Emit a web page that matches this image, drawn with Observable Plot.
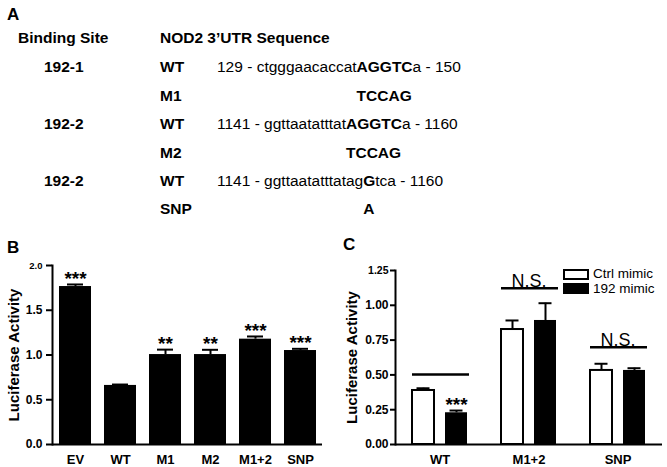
<!DOCTYPE html>
<html>
<head>
<meta charset="utf-8">
<script src="https://cdn.jsdelivr.net/npm/d3@7"></script>
<script src="https://cdn.jsdelivr.net/npm/@observablehq/plot@0.6"></script>
<style>
  html, body { margin: 0; padding: 0; background: white; }
  #wrap { position: relative; width: 667px; height: 467px; overflow: hidden; background: white;
          font-family: "Liberation Sans", Arial, sans-serif; color: black; }
  .t { position: absolute; white-space: pre; font-size: 15.5px; line-height: 18px; }
  .b { font-weight: bold; }
  .hid { visibility: hidden; }
  .panel { position: absolute; font-weight: bold; font-size: 17px; line-height: 20px; }
  .plot { position: absolute; }
  .plot svg { background: transparent !important; overflow: visible; max-width: none !important; }
  .lg { position: absolute; font-size: 13.5px; line-height: 12px; white-space: pre; }
  .sw { position: absolute; box-sizing: border-box; border: 2px solid black; }
</style>
</head>
<body>
<div id="wrap"></div>
<script>
// ---------- Panel A: sequence table ----------
const headers = ["Binding Site", "NOD2 3\u2019UTR Sequence"];
const siteLabels = ["192-1", "", "192-2", "", "192-2", ""];
const variantLabels = ["WT", "M1", "WT", "M2", "WT", "SNP"];
// each sequence row: [regular prefix, bold part, regular suffix, prefixHidden]
const seqRows = [
  ["129 - ctgggaacaccat", "AGGTC", "a - 150", false],
  ["129 - ctgggaacaccat", "TCCAG", "", true],
  ["1141 - ggttaatatttat", "AGGTC", "a - 1160", false],
  ["1141 - ggttaatatttat", "TCCAG", "", true],
  ["1141 - ggttaatatttatag", "G", "tca - 1160", false],
  ["1141 - ggttaatatttatag", "A", "", true]
];

// ---------- Panel B data ----------
const catsB = ["EV", "WT", "M1", "M2", "M1+2", "SNP"];
const meanB = [1.765, 0.66, 1.005, 1.005, 1.177, 1.05];
const errB  = [0.023, 0.01, 0.055, 0.053, 0.03, 0.019];
const starsB = ["***", "", "**", "**", "***", "***"];
const ticksB = [0, 0.5, 1.0, 1.5, 2.0];
const yTitle = "Luciferase Activity";

// ---------- Panel C data ----------
const groupsC = ["WT", "M1+2", "SNP"];
const seriesC = ["Ctrl mimic", "192 mimic"];
const ctrlMean = [0.388, 0.826, 0.532];
const ctrlErr  = [0.016, 0.065, 0.048];
const mimicMean = [0.228, 0.891, 0.532];
const mimicErr  = [0.016, 0.124, 0.016];
const mimicStars = ["***", "", ""];
const sigLevel = [0.503, 1.123, 0.699];
const sigLabel = ["", "N.S.", "N.S."];
const ticksC = [0, 0.25, 0.5, 0.75, 1.0, 1.25];

const FONT = "Liberation Sans, Arial, sans-serif";
const wrap = document.getElementById("wrap");

function addDiv(cls, html, left, top) {
  const d = document.createElement("div");
  d.className = cls;
  d.innerHTML = html;
  d.style.left = left + "px";
  d.style.top = top + "px";
  wrap.appendChild(d);
  return d;
}

// Panel A layout
const rowY = [67, 96, 124, 153, 181, 209];
addDiv("panel", "A", 7, 5);
addDiv("t b", headers[0], 18, 38 - 9);
addDiv("t b", headers[1], 160, 38 - 9);
rowY.forEach((y, i) => {
  if (siteLabels[i]) addDiv("t b", siteLabels[i], 44, y - 9);
  addDiv("t b", variantLabels[i], 160, y - 9);
  const [pre, bold, suf, hidden] = seqRows[i];
  addDiv("t", `<span class="${hidden ? "hid" : ""}">${pre}</span><span class="b">${bold}</span>${suf}`, 217, y - 9);
});

// ---------- Panel B plot ----------
const dataB = catsB.map((c, i) => ({cat: c, mean: meanB[i], err: errB[i], top: meanB[i] + errB[i], star: starsB[i]}));
const plotB = Plot.plot({
  width: 333, height: 220,
  marginLeft: 52, marginRight: 11, marginTop: 18, marginBottom: 23,
  style: {fontFamily: FONT, background: "transparent", color: "black"},
  x: {domain: catsB, paddingInner: 0.29, paddingOuter: 0.14},
  y: {domain: [0, 2]},
  marks: [
    Plot.barY(dataB, {x: "cat", y: "mean", fill: "black"}),
    Plot.ruleX(dataB, {x: "cat", y1: "mean", y2: "top", strokeWidth: 2}),
    Plot.tickY(dataB, {x: "cat", y: "top", strokeWidth: 2, insetLeft: 8, insetRight: 8}),
    Plot.text(dataB, {x: "cat", y: "top", text: "star", fontSize: 19, fontWeight: "bold", lineAnchor: "middle", dy: -6}),
    Plot.axisY({ticks: ticksB, tickFormat: d3.format(".1f"), tickSize: 6, tickPadding: 4, strokeWidth: 2,
      fontSize: 12, fontWeight: "bold", label: null}),
    Plot.text([yTitle], {frameAnchor: "left", textAnchor: "middle", lineAnchor: "middle", rotate: -90, dx: -38.5, fontSize: 15, fontWeight: "bold"}),
    Plot.axisX({tickSize: 0, tickPadding: 10, fontSize: 13, fontWeight: "bold", label: null}),
    Plot.ruleY([0], {strokeWidth: 2}),
    Plot.frame({anchor: "left", strokeWidth: 2})
  ]
});

// ---------- Panel C plot ----------
const dataC = groupsC.map((g, i) => ({
  group: g, cm: ctrlMean[i], ct: ctrlMean[i] + ctrlErr[i],
  mm: mimicMean[i], mt: mimicMean[i] + mimicErr[i], star: mimicStars[i],
  sig: sigLevel[i], sigLabel: sigLabel[i]
}));
const plotC = Plot.plot({
  width: 334, height: 220,
  marginLeft: 62, marginRight: 5, marginTop: 23, marginBottom: 23,
  style: {fontFamily: FONT, background: "transparent", color: "black"},
  x: {domain: groupsC, padding: 0},
  y: {domain: [0, 1.25]},
  marks: [
    Plot.barY(dataC, {x: "group", y: "cm", fill: "white", stroke: "black", strokeWidth: 2, insetLeft: 17, insetRight: 50}),
    Plot.barY(dataC, {x: "group", y: "mm", fill: "black", insetLeft: 50, insetRight: 17}),
    Plot.ruleX(dataC, {x: "group", y1: "cm", y2: "ct", strokeWidth: 2, dx: -16.5}),
    Plot.ruleX(dataC, {x: "group", y1: "mm", y2: "mt", strokeWidth: 2, dx: 16.5}),
    Plot.tickY(dataC, {x: "group", y: "ct", strokeWidth: 2, insetLeft: 21.5, insetRight: 54.5}),
    Plot.tickY(dataC, {x: "group", y: "mt", strokeWidth: 2, insetLeft: 54.5, insetRight: 21.5}),
    Plot.text(dataC, {x: "group", y: "mt", text: "star", dx: 16.5, fontSize: 19, fontWeight: "bold", lineAnchor: "middle", dy: -6}),
    Plot.tickY(dataC, {x: "group", y: "sig", strokeWidth: 2.5, insetLeft: 17, insetRight: 15}),
    Plot.text(dataC, {x: "group", y: "sig", text: "sigLabel", fontSize: 18, lineAnchor: "middle", dy: -7}),
    Plot.axisY({ticks: ticksC, tickFormat: d3.format(".2f"), tickSize: 5, tickPadding: 2, strokeWidth: 2,
      fontSize: 12, fontWeight: "bold", label: null}),
    Plot.text([yTitle], {frameAnchor: "left", textAnchor: "middle", lineAnchor: "middle", rotate: -90, dx: -43, fontSize: 15, fontWeight: "bold"}),
    Plot.axisX({tickSize: 0, tickPadding: 10, fontSize: 13, fontWeight: "bold", label: null}),
    Plot.ruleY([0], {strokeWidth: 2}),
    Plot.frame({anchor: "left", strokeWidth: 2})
  ]
});

function place(svg, left, top) {
  const d = document.createElement("div");
  d.className = "plot";
  d.style.left = left + "px";
  d.style.top = top + "px";
  d.appendChild(svg);
  wrap.appendChild(d);
  return d;
}
place(plotB, 0, 247);
place(plotC, 333, 247);
d3.select(plotB).selectAll("text").filter(function() { return this.textContent === "2.0"; }).attr("font-size", 9.5);
d3.select(plotC).selectAll("text").filter(function() { return this.textContent === "1.25"; }).attr("font-size", 10.5);

// panel labels
addDiv("panel", "B", 7, 238);
addDiv("panel", "C", 343, 235);

// legend for panel C
seriesC.forEach((s, i) => {
  const sw = document.createElement("div");
  sw.className = "sw";
  sw.style.left = "563px";
  sw.style.top = (i === 0 ? 269 : 283) + "px";
  sw.style.width = "26px";
  sw.style.height = "11px";
  sw.style.background = i === 0 ? "white" : "black";
  wrap.appendChild(sw);
  addDiv("lg", s, 593, (i === 0 ? 273.5 : 288.5) - 6);
});
</script>
</body>
</html>
